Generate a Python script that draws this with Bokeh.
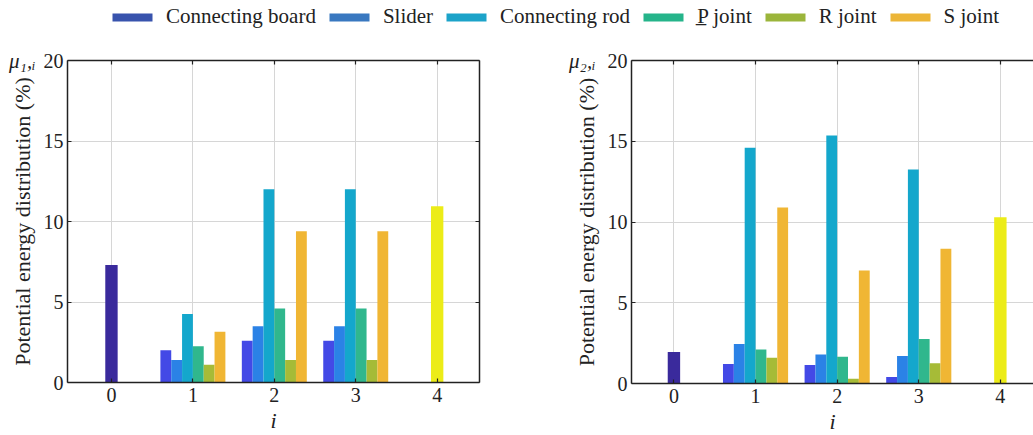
from bokeh.plotting import figure
from bokeh.models import Range1d, FixedTicker, Legend, LegendItem, LinearAxis
from bokeh.layouts import column, row
from bokeh.embed import file_html
from bokeh.resources import INLINE

FONT = "Liberation Serif"
TXT = "#222222"

# ---------------- data ----------------
i_ticks = [0, 1, 2, 3, 4]
tick_labels = ["0", "1", "2", "3", "4"]
y_ticks = [0, 5, 10, 15, 20]
components = ["Connecting board", "Slider", "Connecting rod", "P\u0332 joint", "R joint", "S joint"]
mu_labels = ["\u03bc\u2081,\u1d62", "\u03bc\u2082,\u1d62"]
mid_i = [1, 2, 3]

# panel 1 (mu_1,i)
mu1_i0 = [7.3]
mu1_i4 = [10.95]
mu1_connecting_board = [2.0, 2.6, 2.6]
mu1_slider = [1.4, 3.5, 3.5]
mu1_connecting_rod = [4.25, 12.0, 12.0]
mu1_p_joint = [2.25, 4.6, 4.6]
mu1_r_joint = [1.1, 1.4, 1.4]
mu1_s_joint = [3.15, 9.4, 9.4]

# panel 2 (mu_2,i)
mu2_i0 = [1.95]
mu2_i4 = [10.3]
mu2_connecting_board = [1.2, 1.15, 0.4]
mu2_slider = [2.45, 1.8, 1.7]
mu2_connecting_rod = [14.6, 15.35, 13.25]
mu2_p_joint = [2.1, 1.65, 2.75]
mu2_r_joint = [1.6, 0.3, 1.25]
mu2_s_joint = [10.9, 7.0, 8.35]

bar_colors = ["#4349e6", "#2b82e6", "#14a7cc", "#30b78d", "#a6bb37", "#f0b634"]
legend_colors = ["#3853ad", "#3978c0", "#1ca3c9", "#25b48a", "#9bb53b", "#ecb537"]
i0_color = "#3a2a9c"
i4_color = "#ecec18"

BAR_W = 0.133
END_W = 0.152


def style_axis(ax):
    ax.major_tick_in = 4
    ax.major_tick_out = 0
    ax.minor_tick_line_color = None
    ax.axis_line_color = TXT
    ax.axis_line_width = 1.5
    ax.major_tick_line_color = TXT
    ax.major_tick_line_width = 1.2
    ax.major_label_text_font = FONT
    ax.major_label_text_color = TXT


def make_panel(series, v0, v4, mu_text, x_start, x_end, bl, fw, br, bt, fh, bb,
               mu_standoff, right_ticks):
    p = figure(frame_width=fw, frame_height=fh,
               min_border_left=bl, min_border_right=br,
               min_border_top=bt, min_border_bottom=bb,
               x_range=Range1d(x_start, x_end), y_range=Range1d(0, 20),
               output_backend="svg", toolbar_location=None,
               background_fill_color="white", border_fill_color="white")
    p.outline_line_color = None

    # bars
    n = len(series)
    for k, (vals, col) in enumerate(zip(series, bar_colors)):
        off = (k - (n - 1) / 2) * BAR_W
        p.vbar(x=[g + off for g in mid_i], top=vals, width=BAR_W,
               fill_color=col, line_color=None)
    p.vbar(x=[i_ticks[0]], top=v0, width=END_W, fill_color=i0_color, line_color=None)
    p.vbar(x=[i_ticks[-1]], top=v4, width=END_W, fill_color=i4_color, line_color=None)

    # main axes
    p.xaxis.ticker = FixedTicker(ticks=i_ticks)
    p.xaxis.major_label_overrides = {t: l for t, l in zip(i_ticks, tick_labels)}
    p.yaxis.ticker = FixedTicker(ticks=y_ticks)
    for ax in (p.xaxis[0], p.yaxis[0]):
        style_axis(ax)
        ax.major_label_text_font_size = "20px"
    p.xaxis.major_label_standoff = 5
    p.yaxis.major_label_standoff = 4
    p.yaxis.axis_label = "Potential energy distribution (%)"
    p.yaxis.axis_label_text_font = FONT
    p.yaxis.axis_label_text_font_style = "normal"
    p.yaxis.axis_label_text_font_size = "22px"
    p.yaxis.axis_label_text_color = TXT
    p.yaxis.axis_label_standoff = 6
    p.xaxis.axis_label = "i"
    p.xaxis.axis_label_text_font = FONT
    p.xaxis.axis_label_text_font_style = "italic"
    p.xaxis.axis_label_text_font_size = "22px"
    p.xaxis.axis_label_text_color = TXT
    p.xaxis.axis_label_standoff = 3

    # box edges with mirrored inward ticks (no labels)
    extra = [("above", i_ticks)]
    if right_ticks:
        extra.append(("right", y_ticks))
    for place, tks in extra:
        ax = LinearAxis(ticker=FixedTicker(ticks=tks))
        style_axis(ax)
        ax.major_label_overrides = {t: "" for t in tks}
        ax.major_label_standoff = 0
        p.add_layout(ax, place)

    # mu_{k,i} symbol beside the top tick (outer label-only axis)
    mu_ax = LinearAxis(ticker=FixedTicker(ticks=[y_ticks[-1]]))
    mu_ax.major_label_overrides = {y_ticks[-1]: mu_text}
    mu_ax.axis_line_color = None
    mu_ax.major_tick_line_color = None
    mu_ax.minor_tick_line_color = None
    mu_ax.major_tick_in = 0
    mu_ax.major_tick_out = 0
    mu_ax.major_label_standoff = mu_standoff
    mu_ax.major_label_text_font = FONT
    mu_ax.major_label_text_font_style = "italic"
    mu_ax.major_label_text_font_size = "21px"
    mu_ax.major_label_text_color = TXT
    p.add_layout(mu_ax, "left")

    p.xgrid.ticker = FixedTicker(ticks=i_ticks)
    p.ygrid.ticker = FixedTicker(ticks=y_ticks)
    p.grid.grid_line_color = "#d6d6d6"
    p.grid.grid_line_width = 1
    return p


series1 = [mu1_connecting_board, mu1_slider, mu1_connecting_rod, mu1_p_joint, mu1_r_joint, mu1_s_joint]
series2 = [mu2_connecting_board, mu2_slider, mu2_connecting_rod, mu2_p_joint, mu2_r_joint, mu2_s_joint]

p1 = make_panel(series1, mu1_i0, mu1_i4, mu_labels[0], -0.54, 4.52,
                67, 412, 84, 28, 322, 53, -29, True)
p2 = make_panel(series2, mu2_i0, mu2_i4, mu_labels[1], -0.52, 4.406,
                68, 402, 0, 24, 323, 56, -25, False)

# ---------------- legend strip ----------------
lf = figure(width=1033, height=32, x_range=Range1d(0, 1), y_range=Range1d(0, 1),
            x_axis_type=None, y_axis_type=None, min_border=0,
            output_backend="svg", toolbar_location=None)
lf.outline_line_color = None
items = []
for name, col in zip(components, legend_colors):
    r = lf.vbar(x=[0], top=[0], width=0.01, fill_color=col, line_color=None)
    items.append(LegendItem(label=name, renderers=[r]))
leg = Legend(items=items, orientation="horizontal", location=(107, 3),
             glyph_width=50, glyph_height=10, label_standoff=9, spacing=8,
             padding=0, margin=0, border_line_color=None, background_fill_alpha=0,
             label_text_font=FONT, label_text_font_size="21px", label_text_color=TXT,
             label_height=20)
lf.add_layout(leg)

layout = column(lf, row(p1, p2))
open("out.html", "w").write(file_html(layout, INLINE))
